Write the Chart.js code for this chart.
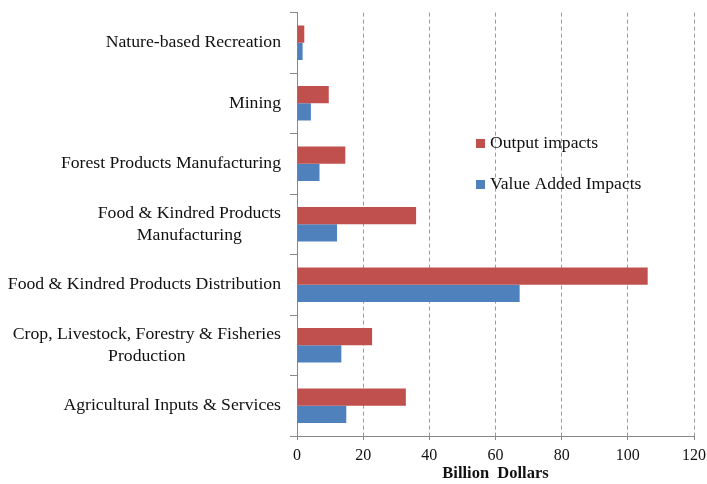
<!DOCTYPE html>
<html><head><meta charset="utf-8">
<script src="https://cdn.jsdelivr.net/npm/chart.js@4"></script>
<style>html,body{margin:0;padding:0;background:#fff}#wrap{width:707px;height:484px;position:relative}</style>
</head><body><div id="wrap"><canvas id="c" width="707" height="484"></canvas></div>
<script>
const categories = [
  ["Nature-based Recreation"],
  ["Mining"],
  ["Forest Products Manufacturing"],
  ["Food & Kindred Products", "Manufacturing"],
  ["Food & Kindred Products Distribution"],
  ["Crop, Livestock, Forestry & Fisheries", "Production"],
  ["Agricultural Inputs & Services"]
];
const outputImpacts = [2.2, 9.6, 14.6, 36.0, 106.0, 22.7, 32.9];
const valueAddedImpacts = [1.7, 4.2, 6.8, 12.1, 67.3, 13.4, 14.9];
const seriesNames = ["Output impacts", "Value Added Impacts"];
const xTicks = [0, 20, 40, 60, 80, 100, 120];
const xTitle = "Billion  Dollars";

const FONT = "'Liberation Serif','Times New Roman',serif";

const labelPlugin = {
  id: 'labels',
  afterDraw(chart) {
    const ctx = chart.ctx;
    const y = chart.scales.y;
    ctx.save();
    ctx.font = "17.7px " + FONT;
    ctx.fillStyle = "#111";
    ctx.textBaseline = "middle";
    ctx.textAlign = "center";
    const right = 281, lh = 22.5;
    chart.data.labels.forEach((lines, i) => {
      const cy = y.getPixelForValue(i);
      const maxW = Math.max(...lines.map(l => ctx.measureText(l).width));
      const cx = right - maxW / 2;
      const y0 = cy - (lines.length - 1) * lh / 2;
      lines.forEach((l, k) => ctx.fillText(l, cx, y0 + k * lh));
    });
    // legend
    ctx.font = "17.6px " + FONT;
    ctx.textAlign = "left";
    const lx = 476, ly = [143.5, 184.5];
    chart.data.datasets.forEach((ds, k) => {
      ctx.fillStyle = ds.backgroundColor;
      ctx.fillRect(lx, ly[k] - 4.5, 9, 9);
      ctx.fillStyle = "#111";
      ctx.fillText(ds.label, lx + 14, ly[k]);
    });
    ctx.restore();
  }
};

new Chart(document.getElementById('c'), {
  type: 'bar',
  data: {
    labels: categories,
    datasets: [
      { label: seriesNames[0], data: outputImpacts, backgroundColor: '#C0504D' },
      { label: seriesNames[1], data: valueAddedImpacts, backgroundColor: '#4F81BD' }
    ]
  },
  options: {
    indexAxis: 'y',
    responsive: false,
    animation: false,
    layout: { padding: { top: 8, right: 13, left: 0, bottom: 0 } },
    datasets: { bar: { categoryPercentage: 0.57, barPercentage: 1.0 } },
    plugins: { legend: { display: false }, tooltip: { enabled: false } },
    scales: {
      x: {
        min: 0, max: 120,
        afterBuildTicks(s) { s.ticks = xTicks.map(v => ({ value: v })); },
        afterFit(s) { s.height = 48; s.paddingRight = 0; s.paddingLeft = 0; },
        border: { display: true, color: '#888', width: 1, dash: [4, 3] },
        grid: { color: '#9a9a9a', tickLength: 4, tickBorderDash: [], tickColor: '#888', drawTicks: true },
        ticks: { color: '#111', font: { family: FONT, size: 16 }, padding: 6, maxRotation: 0 },
        title: { display: true, text: xTitle, color: '#111', font: { family: FONT, size: 16.5, weight: 'bold' }, padding: { top: 1, bottom: 0 } }
      },
      y: {
        afterFit(s) { s.width = 297; },
        border: { display: true, color: '#888', width: 1 },
        grid: { offset: true, drawOnChartArea: false, tickLength: 7, color: '#888' },
        ticks: { color: 'transparent', font: { family: FONT, size: 16 } }
      }
    }
  },
  plugins: [labelPlugin]
});
</script></body></html>
